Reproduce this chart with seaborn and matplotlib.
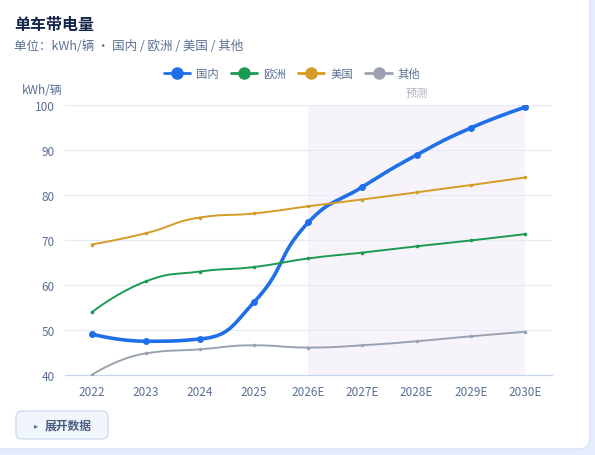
import numpy as np
import pandas as pd
import matplotlib
matplotlib.use("Agg")
import matplotlib.pyplot as plt
import seaborn as sns
from matplotlib.patches import FancyBboxPatch
from matplotlib.lines import Line2D

years = ["2022", "2023", "2024", "2025", "2026E", "2027E", "2028E", "2029E", "2030E"]
domestic = [49.1, 47.5, 48.0, 56.2, 73.9, 81.8, 88.9, 94.9, 99.5]
europe = [53.9, 60.8, 63.0, 64.0, 65.9, 67.2, 68.6, 69.9, 71.3]
usa = [69.0, 71.5, 75.0, 75.9, 77.5, 79.0, 80.6, 82.2, 83.9]
other = [40.0, 44.8, 45.7, 46.6, 46.1, 46.6, 47.5, 48.6, 49.6]
series_names = ["国内", "欧洲", "美国", "其他"]
colors = ["#1f6fe8", "#1b9a52", "#d49c26", "#9aa2b1"]

df = pd.DataFrame({"年份": years, "国内": domestic, "欧洲": europe, "美国": usa, "其他": other})
long = df.melt(id_vars="年份", var_name="地区", value_name="值")
long["x"] = long["年份"].map({y: i for i, y in enumerate(years)})

sns.set_theme(style="white")
plt.rcParams['font.family'] = ['Noto Sans CJK SC', 'DejaVu Sans']

W, H = 595, 456
fig = plt.figure(figsize=(W / 100, H / 100), dpi=100)
fig.patch.set_facecolor("#e3edfb")
card = FancyBboxPatch((-30, 6), 620, 480, boxstyle="round,pad=0,rounding_size=12",
                      transform=None, facecolor="white", edgecolor="#d3e1f4", linewidth=0.8,
                      zorder=0)
fig.patches.append(card)

ax = fig.add_axes([64.5 / W, (H - 376) / H, 487.5 / W, 270 / H])
ax.set_zorder(2)
ax.set_facecolor("none")

XS, YS = 54.2, 4.5  # pixel scale used for the smoothing geometry


def smooth_curve(xs, ys, smooth=0.5, n=40):
    """Constrained bezier smoothing (as in ECharts line smooth)."""
    X = np.asarray(xs, float) * XS
    Y = np.asarray(ys, float) * YS
    m = len(X)
    segs = []
    cp0 = (X[0], Y[0])
    t = np.linspace(0, 1, n)
    for i in range(1, m):
        x, y = X[i], Y[i]
        px, py = X[i - 1], Y[i - 1]
        nxt0 = None
        if i == m - 1:
            cp1 = (x, y)
        else:
            nx, ny = X[i + 1], Y[i + 1]
            vx, vy = nx - px, ny - py
            lp = np.hypot(x - px, y - py)
            ln = np.hypot(nx - x, ny - y)
            r = ln / (ln + lp)
            ncx = x + vx * smooth * r
            ncy = y + vy * smooth * r
            ncx = max(min(ncx, max(nx, x)), min(nx, x))
            ncy = max(min(ncy, max(ny, y)), min(ny, y))
            vx, vy = ncx - x, ncy - y
            c1x = x - vx * lp / ln
            c1y = y - vy * lp / ln
            c1x = max(min(c1x, max(px, x)), min(px, x))
            c1y = max(min(c1y, max(py, y)), min(py, y))
            vx, vy = x - c1x, y - c1y
            ncx = x + vx * ln / lp
            ncy = y + vy * ln / lp
            cp1 = (c1x, c1y)
            nxt0 = (ncx, ncy)
        a = np.array([px, py]); b = np.array(cp0); c = np.array(cp1); d = np.array([x, y])
        tt = t[:, None]
        seg = (1 - tt) ** 3 * a + 3 * (1 - tt) ** 2 * tt * b + 3 * (1 - tt) * tt ** 2 * c + tt ** 3 * d
        segs.append(seg)
        cp0 = nxt0
    pts = np.vstack(segs)
    return pts[:, 0] / XS, pts[:, 1] / YS


# forecast band
ax.axvspan(4, 8, ymin=0, ymax=1, color="#f6f3fb", zorder=0, lw=0)
ax.text(6.0, 101.5, "预测", ha="center", va="bottom", fontsize=8, color="#a9afbd")

for name, col in zip(series_names, colors):
    sub = long[long["地区"] == name]
    sx, sy = smooth_curve(sub["x"].values, sub["值"].values)
    lw = 2.6 if name == "国内" else 1.4
    ms = 5 if name == "国内" else 2.6
    ax.plot(sx, sy, color=col, lw=lw, zorder=3, solid_capstyle="round")
    sns.scatterplot(data=sub, x="x", y="值", ax=ax, color=col, s=ms ** 2, edgecolor=col,
                    linewidth=0, zorder=4, legend=False)

ax.set_xlim(-0.5, 8.5)
ax.set_ylim(40, 100)
ax.set_yticks(range(40, 101, 10))
ax.set_xticks(range(len(years)))
ax.set_xticklabels(years)
ax.set_xticks(np.arange(-0.5, 9.0, 1.0), minor=True)
ax.grid(axis="y", color="#e4ebf6", lw=0.8, zorder=1)
ax.set_axisbelow(True)
for s in ["top", "right", "left"]:
    ax.spines[s].set_visible(False)
ax.spines["bottom"].set_color("#c6d6ee")
ax.spines["bottom"].set_linewidth(0.9)
ax.tick_params(axis="x", which="major", length=0, pad=7, labelsize=8.5, labelcolor="#5b6f95")
ax.tick_params(axis="x", which="minor", length=4, color="#c6d6ee", width=0.8)
ax.tick_params(axis="y", length=0, pad=7, labelsize=8.5, labelcolor="#5b6f95")
ax.set_xlabel("")
ax.set_ylabel("")

fig.text(42 / W, 1 - 90 / H, "kWh/辆", ha="center", va="center", fontsize=8.5, color="#5b6f95")

fig.text(14 / W, 1 - 25 / H, "单车带电量", ha="left", va="center", fontsize=11.5,
         fontweight="bold", color="#15264a")
fig.text(14 / W, 1 - 46 / H, "单位：kWh/辆 · 国内 / 欧洲 / 美国 / 其他", ha="left", va="center",
         fontsize=9, color="#5b6f95")

handles = [Line2D([0], [0], color=c, lw=2, marker="o", markersize=8, markerfacecolor=c,
                  markeredgecolor=c) for c in colors]
leg = fig.legend(handles, series_names, loc="center", bbox_to_anchor=(292 / W, 1 - 74 / H),
                 ncol=4, frameon=False, fontsize=8.2, handlelength=2.3, handletextpad=0.5,
                 columnspacing=1.1, labelcolor="#5b6f95")
leg.set_zorder(3)

btn = FancyBboxPatch((16, H - 440), 92, 28, boxstyle="round,pad=0,rounding_size=6",
                     transform=None, facecolor="#f1f6fd", edgecolor="#c9daf2", linewidth=0.9,
                     zorder=2)
fig.patches.append(btn)
fig.text(36 / W, 1 - 426 / H, "▸", ha="center", va="center", fontsize=6, color="#5b6f95",
         family=["DejaVu Sans"], zorder=3)
fig.text(45 / W, 1 - 426 / H, "展开数据", ha="left", va="center", fontsize=8.5,
         color="#4a5d82", fontweight="bold", zorder=3)

fig.savefig("out.png", dpi=100, facecolor=fig.get_facecolor())
